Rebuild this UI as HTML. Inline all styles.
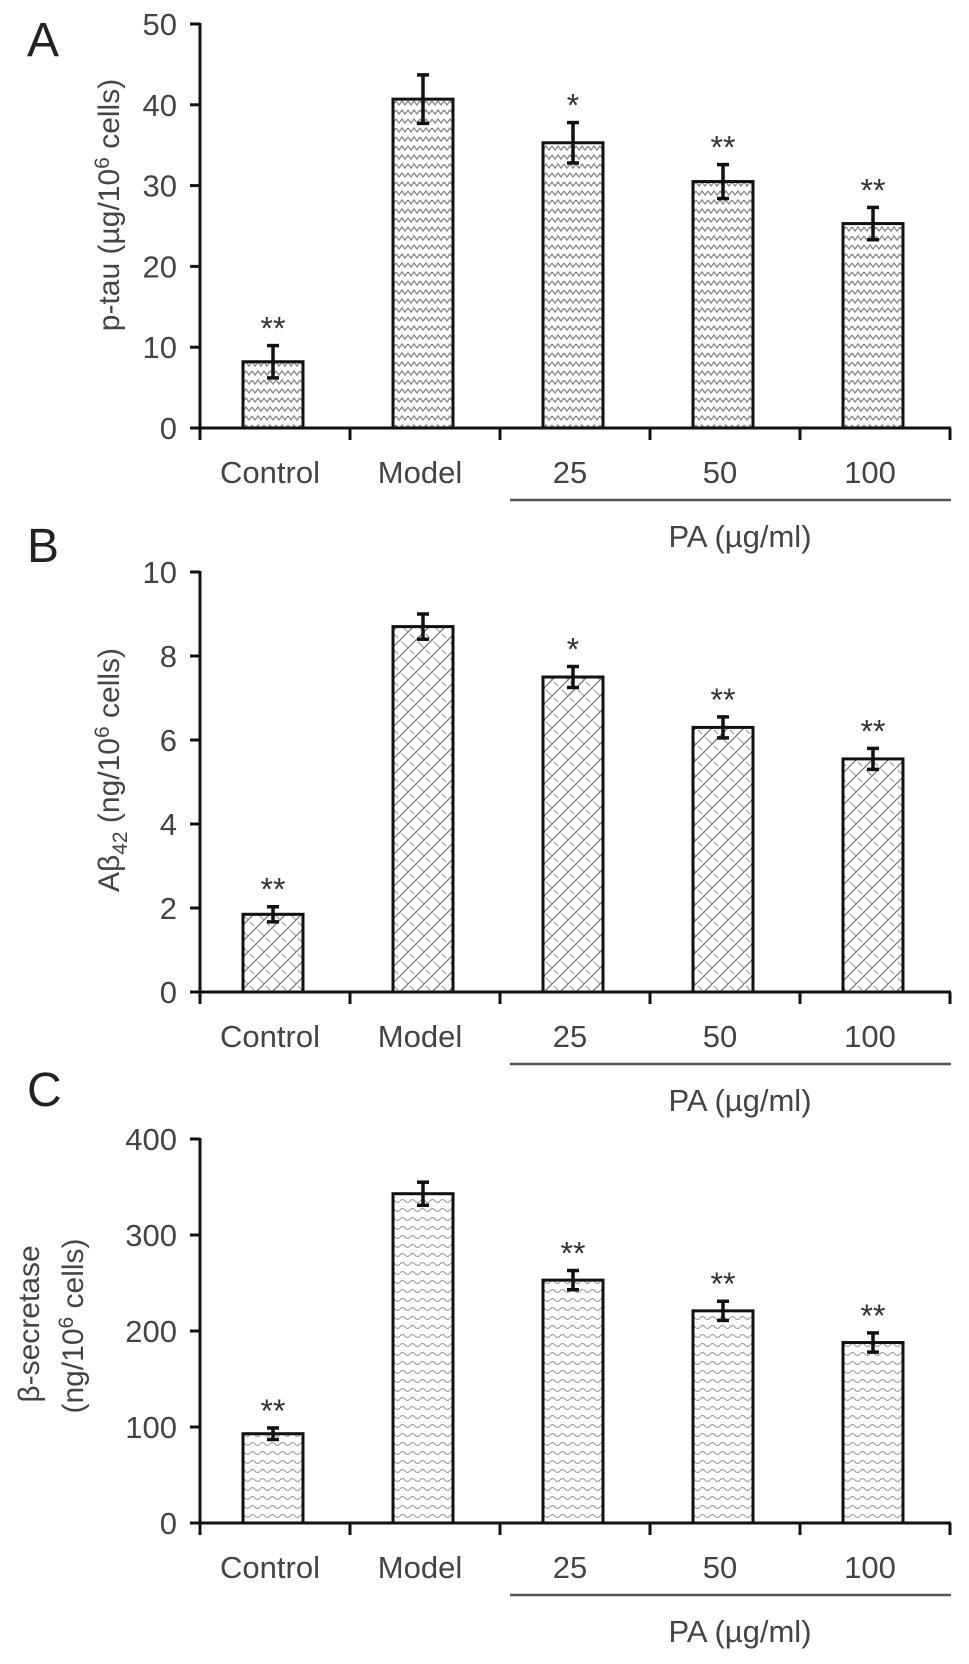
<!DOCTYPE html>
<html><head><meta charset="utf-8"><style>
html,body{margin:0;padding:0;background:#fff;}
svg{display:block;font-family:"Liberation Sans",Arial,sans-serif;}
</style></head><body>
<svg id="fig" width="969" height="1664" viewBox="0 0 969 1664" xmlns="http://www.w3.org/2000/svg">
<defs>
<pattern id="patA" width="12" height="9" patternUnits="userSpaceOnUse">
<rect width="12" height="9" fill="#fff"/>
<polyline points="0,2 3,6 6,2 9,6 12,2" fill="none" stroke="#888" stroke-width="1.3"/>
</pattern>
<pattern id="patB" width="16" height="16" patternUnits="userSpaceOnUse">
<rect width="16" height="16" fill="#fff"/>
<path d="M0,16 L16,0 M-4,4 L4,-4 M12,20 L20,12" stroke="#777" stroke-width="1.3"/>
<path d="M2,2 L8,8 M10,10 L14,14" stroke="#999" stroke-width="1.1"/>
</pattern>
<pattern id="patC" width="10" height="9" patternUnits="userSpaceOnUse">
<rect width="10" height="9" fill="#fff"/>
<path d="M0,4 Q2.5,1 5,4 T10,4" fill="none" stroke="#999" stroke-width="1.1"/>
</pattern>
</defs>
<g id="root"></g>
</svg>
<script>
const categories = ["Control","Model","25","50","100"];
const valuesA = [8.2, 40.7, 35.3, 30.5, 25.3];
const errorsA = [2.0, 3.0, 2.5, 2.1, 2.0];
const starsA = ["**","","*","**","**"];
const ticksA = [0,10,20,30,40,50];
const valuesB = [1.85, 8.7, 7.5, 6.3, 5.55];
const errorsB = [0.18, 0.3, 0.25, 0.25, 0.25];
const starsB = ["**","","*","**","**"];
const ticksB = [0,2,4,6,8,10];
const valuesC = [93, 343, 253, 221, 188];
const errorsC = [6, 12, 10, 10, 10];
const starsC = ["**","","**","**","**"];
const ticksC = [0,100,200,300,400];

const NS = "http://www.w3.org/2000/svg";
const root = document.getElementById('root');
function mk(tag, attrs, parent, text){
  const e = document.createElementNS(NS, tag);
  for (const k in attrs) e.setAttribute(k, attrs[k]);
  if (text !== undefined) e.textContent = text;
  (parent||root).appendChild(e);
  return e;
}

function panel(cfg){
  const g = mk('g', {});
  
  
  const x0 = 200, x1 = 951, step = 150;
  const maxV = cfg.ticks[cfg.ticks.length-1];
  const y = v => cfg.y0 - (v/maxV)*(cfg.y0 - cfg.yTop);
  const xc = i => x0 + step*(i+0.5) - 2;
  const L = mk('text', {x:27, y:cfg.letterY, 'font-size':48, fill:'#222'}, g, cfg.letter);
  
  
  cfg.values.forEach((v,i)=>{
    const b = mk('rect', {x:xc(i)-30, y:y(v), width:60, height:cfg.y0-y(v), fill:'url(#'+cfg.pat+')', stroke:'#111', 'stroke-width':3}, g);
    
    
    const e = cfg.errors[i];
    const eg = mk('g', {stroke:'#111', 'stroke-width':3.5}, g);
    
    
    mk('line', {x1:xc(i), x2:xc(i), y1:y(v+e), y2:y(v-e)}, eg);
    mk('line', {x1:xc(i)-6, x2:xc(i)+6, y1:y(v+e), y2:y(v+e)}, eg);
    mk('line', {x1:xc(i)-6, x2:xc(i)+6, y1:y(v-e), y2:y(v-e)}, eg);
    if (cfg.stars[i]) {
      const s = mk('text', {x:xc(i), y:y(v+e)-6, 'font-size':32, 'text-anchor':'middle', fill:'#333'}, g, cfg.stars[i]);
      
      
    }
  });
  const ax = mk('g', {stroke:'#111', 'stroke-width':3, fill:'none'}, g);
  
  
  mk('line', {x1:x0, x2:x0, y1:y(maxV)-1, y2:cfg.y0+12}, ax);
  mk('line', {x1:x0-1, x2:x1, y1:cfg.y0, y2:cfg.y0}, ax);
  cfg.ticks.forEach(t=>{
    mk('line', {x1:x0-10, x2:x0, y1:y(t), y2:y(t)}, ax);
    const tl = mk('text', {x:177, y:y(t)+11, 'font-size':31, 'text-anchor':'end', fill:'#444', stroke:'none'}, g, String(t));
    
    
  });
  for (let i=1;i<=5;i++) mk('line', {x1:x0+step*i, x2:x0+step*i, y1:cfg.y0, y2:cfg.y0+12}, ax);
  categories.forEach((c,i)=>{
    const t = mk('text', {x:xc(i)-3, y:cfg.y0+55, 'font-size':31, 'text-anchor':'middle', fill:'#444'}, g, c);
    
    
  });
  const pl = mk('line', {x1:510, x2:951, y1:cfg.y0+72, y2:cfg.y0+72, stroke:'#555', 'stroke-width':2.5}, g);
  
  
  const pt = mk('text', {x:740, y:cfg.y0+119, 'font-size':31, 'text-anchor':'middle', fill:'#444'}, g, 'PA (\u00b5g/ml)');
  
  
  cfg.titles.forEach(tt=>{
    const t = mk('text', {x:0, y:0, 'font-size':30, 'text-anchor':'middle', fill:'#444', transform:'translate('+tt.x+','+tt.y+') rotate(-90)'}, g);
    
    
    tt.parts.forEach(p=>{
      mk('tspan', p.sub ? {'font-size':21, dy:p.dy} : (p.sup ? {'font-size':21, dy:p.dy} : (p.dy!==undefined?{dy:p.dy}:{})), t, p.t);
    });
  });
}

panel({name:'panel-a', letter:'A', letterY:56, y0:428, yTop:24, values:valuesA, errors:errorsA, stars:starsA, ticks:ticksA, pat:'patA',
  titles:[{x:119, y:205, parts:[{t:'p-tau (\u00b5g/10'},{t:'6',sup:true,dy:-10},{t:' cells)',dy:10}]}]});
panel({name:'panel-b', letter:'B', letterY:562, y0:992, yTop:572, values:valuesB, errors:errorsB, stars:starsB, ticks:ticksB, pat:'patB',
  titles:[{x:119, y:770, parts:[{t:'A\u03b2'},{t:'42',sub:true,dy:8},{t:' (ng/10',dy:-8},{t:'6',sup:true,dy:-10},{t:' cells)',dy:10}]}]});
panel({name:'panel-c', letter:'C', letterY:1106, y0:1523, yTop:1139, values:valuesC, errors:errorsC, stars:starsC, ticks:ticksC, pat:'patC',
  titles:[{x:39, y:1324, parts:[{t:'\u03b2-secretase'}]},{x:83, y:1326, parts:[{t:'(ng/10'},{t:'6',sup:true,dy:-10},{t:' cells)',dy:10}]}]});
</script>
</body></html>
